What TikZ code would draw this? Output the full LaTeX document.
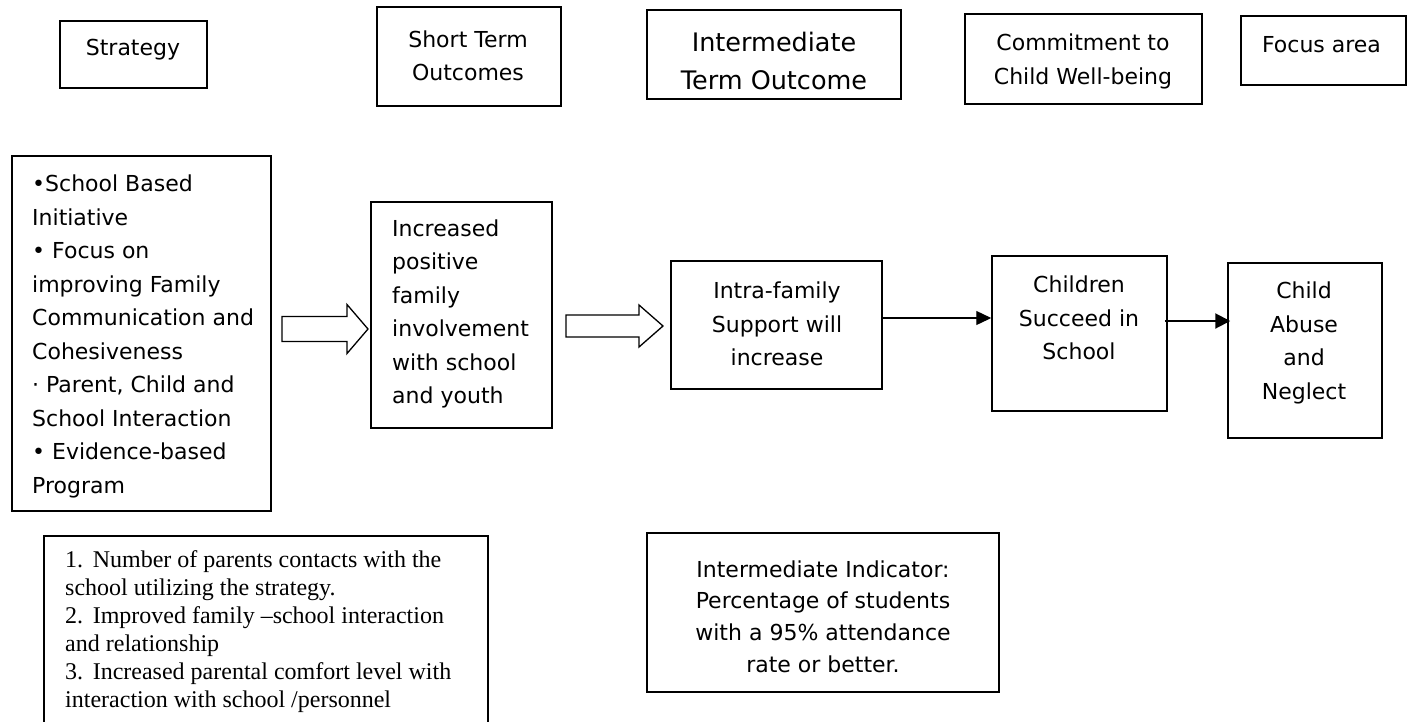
\documentclass[tikz,border=0pt]{standalone}
\usepackage{fontspec}
\setmainfont{DejaVu Sans}
\newfontfamily\serifpart{Liberation Serif}
\usetikzlibrary{arrows.meta,calc}
\begin{document}
\begin{tikzpicture}[x=1pt,y=-1pt,
  box/.style={draw, line width=1.5pt, rectangle, inner sep=0pt},
  txt/.style={inner sep=0pt, align=center, font=\fontsize{22}{33.5}\selectfont},
  bigtxt/.style={inner sep=0pt, align=center, font=\fontsize{25.5}{38}\selectfont},
  indtxt/.style={inner sep=0pt, align=center, font=\fontsize{22}{31.7}\selectfont},
  sertxt/.style={inner sep=0pt, align=left, font=\serifpart\fontsize{24}{28}\selectfont},
  hollow/.style={draw, line width=1.3pt, fill=white, line join=miter},
  thinarrow/.style={line width=1.3pt, -{Triangle[length=15pt,width=14pt]}},
  thickarrow/.style={line width=2pt, -{Triangle[length=15pt,width=15pt]}}
]
\useasboundingbox (0,0) rectangle (1413,721);
\fill[white] (0,0) rectangle (1413,721);

% ---- top row headings
\node[box, minimum width=147, minimum height=67] (hstrat) at (133.5,54.5) {};
\node[txt] (thstrat) at (133,50) {Strategy};
\node[box, minimum width=184, minimum height=99] (hshort) at (469,56.5) {};
\node[txt] (thshort) at (468,56) {Short Term\\Outcomes};
\node[box, minimum width=254, minimum height=89] (hinter) at (774,54.5) {};
\node[bigtxt] (thinter) at (774,61) {Intermediate\\Term Outcome};
\node[box, minimum width=237, minimum height=90] (hcommit) at (1083.5,59) {};
\node[txt] (thcommit) at (1083,61.5) {Commitment to\\Child Well-being};
\node[box, minimum width=165, minimum height=69] (hfocus) at (1323.5,50.5) {};
\node[txt] (thfocus) at (1321.5,45) {Focus area};

% ---- middle row
\node[box, minimum width=259, minimum height=355] (strat) at (141.5,333.5) {};
\node[txt, align=left, anchor=west] (tstrat) at (32,336.5)
  {•School Based\\Initiative\\• Focus on\\improving Family\\Communication and\\Cohesiveness\\· Parent, Child and\\School Interaction\\• Evidence-based\\Program};
\node[box, minimum width=181, minimum height=226] (incr) at (461.5,315) {};
\node[txt, align=left, anchor=west] (tincr) at (392,314)
  {Increased\\positive\\family\\involvement\\with school\\and youth};
\node[box, minimum width=211, minimum height=128] (intra) at (776.5,325) {};
\node[txt] (tintra) at (777,324) {Intra-family\\Support will\\increase};
\node[box, minimum width=175, minimum height=155] (child) at (1079.5,333.5) {};
\node[txt] (tchild) at (1079,318) {Children\\Succeed in\\School};
\node[box, minimum width=154, minimum height=175] (abuse) at (1305,350.5) {};
\node[txt] (tabuse) at (1304,343) {Child\\Abuse\\and\\Neglect};

% ---- hollow block arrows
\draw[hollow] (282,316.5) -- (347,316.5) -- (347,304.5) -- (368,329) -- (347,353.5) -- (347,341.5) -- (282,341.5) -- cycle;
\draw[hollow] (566,315) -- (639,315) -- (639,305) -- (663,326) -- (639,347) -- (639,337) -- (566,337) -- cycle;

% ---- line arrows
\coordinate (ya) at (0,318);
\coordinate (yb) at (0,321);
\draw[thinarrow] (intra.east |- ya) -- (child.west |- ya);
\draw[thickarrow] ($(child.east |- yb)+(-3,0)$) -- ($(abuse.west |- yb)+(3,0)$);

% ---- bottom row
\node[box, minimum width=444, minimum height=200, anchor=north west] (indic) at (43,535) {};
\node[sertxt, anchor=west] (tindic) at (65,632)
  {1.\hspace{0.4em}Number of parents contacts with the\\school utilizing the strategy.\\2.\hspace{0.4em}Improved family –school interaction\\and relationship\\3.\hspace{0.4em}Increased parental comfort level with\\interaction with school /personnel};
\node[box, minimum width=352, minimum height=159] (interind) at (823,612.5) {};
\node[indtxt] (tinterind) at (823,616.5)
  {Intermediate Indicator:\\Percentage of students\\with a 95\% attendance\\rate or better.};
\end{tikzpicture}
\end{document}
